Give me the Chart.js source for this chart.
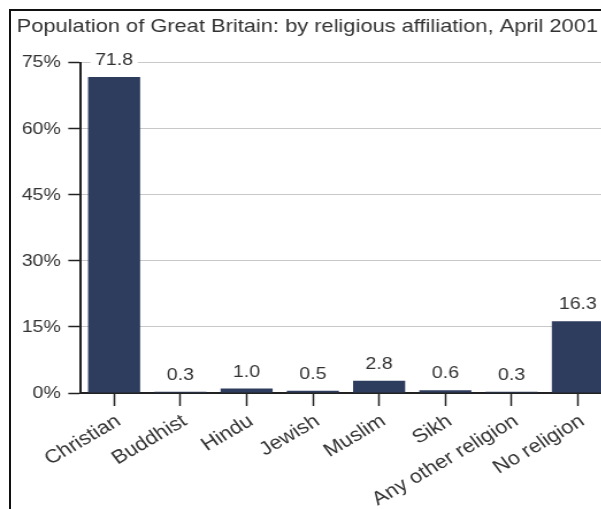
<!DOCTYPE html>
<html lang="en">
<head>
<meta charset="UTF-8">
<title>Population of Great Britain: by religious affiliation</title>
<style>
    * {
        margin: 0;
        padding: 0;
        box-sizing: border-box;
    }

    html, body {
        width: 601px;
        height: 509px;
        overflow: hidden;
        background: #fff;
    }

    .frame {
        position: absolute;
        left: 9px;
        top: 9px;
        width: 700px;
        height: 600px;
        border-top: 2px solid #111;
        border-left: 2px solid #111;
    }

    /* the source picture is a little wider than tall, so stretch it */
    .stretch {
        position: absolute;
        left: 0;
        top: 0;
        transform: scaleX(1.15);
        transform-origin: 0 0;
    }
</style>
<script src="https://cdn.jsdelivr.net/npm/chart.js@4"></script>
</head>
<body>
<div class="frame"></div>
<div class="stretch">
    <canvas id="chart" width="540" height="509" style="width:540px;height:509px"></canvas>
</div>

<script>
    // Data
    const categories = ['Christian', 'Buddhist', 'Hindu', 'Jewish', 'Muslim', 'Sikh', 'Any other religion', 'No religion'];
    const shares = [71.8, 0.3, 1.0, 0.5, 2.8, 0.6, 0.3, 16.3];
    const yTicks = [0, 15, 30, 45, 60, 75];

    const FONT = "'Liberation Sans', Arial, sans-serif";
    const TEXT = '#333';
    const BAR = '#2e3d5d';

    // value above every bar, on a white patch so the gridline is hidden behind it
    const valueLabels = {
        id: 'valueLabels',
        afterDatasetsDraw(chart) {
            const ctx = chart.ctx;
            const meta = chart.getDatasetMeta(0);
            ctx.save();
            ctx.font = '17px ' + FONT;
            ctx.textAlign = 'center';
            ctx.textBaseline = 'alphabetic';
            meta.data.forEach((bar, i) => {
                const txt = shares[i].toFixed(1);
                const w = ctx.measureText(txt).width;
                const y = bar.y - 12;
                ctx.fillStyle = '#fff';
                ctx.fillRect(bar.x - w / 2 - 4, y - 15, w + 8, 18);
                ctx.fillStyle = TEXT;
                ctx.fillText(txt, bar.x, y);
            });
            ctx.restore();
        }
    };

    new Chart(document.getElementById('chart'), {
        type: 'bar',
        data: {
            labels: categories,
            datasets: [{
                data: shares,
                backgroundColor: BAR,
                barPercentage: 0.786,
                categoryPercentage: 1
            }]
        },
        options: {
            responsive: false,
            animation: false,
            layout: {
                padding: { left: 14.5, right: 8.7, top: 0, bottom: 0 }
            },
            plugins: {
                legend: { display: false },
                tooltip: { enabled: false },
                title: {
                    display: true,
                    text: 'Population of Great Britain: by religious affiliation, April 2001',
                    align: 'start',
                    color: TEXT,
                    font: { family: FONT, size: 19, weight: 'normal', lineHeight: 1.2 },
                    padding: { top: 15, bottom: 25 }
                }
            },
            scales: {
                x: {
                    grid: {
                        display: true,
                        drawOnChartArea: false,
                        offset: false,
                        tickLength: 13,
                        tickColor: '#222',
                        tickWidth: 1.5
                    },
                    border: { color: '#222', width: 2 },
                    ticks: {
                        color: TEXT,
                        font: { family: FONT, size: 19 },
                        // 33.6 here looks like 30 once the canvas is stretched
                        minRotation: 33.6,
                        maxRotation: 33.6,
                        padding: 4,
                        labelOffset: 4,
                        autoSkip: false
                    },
                    afterFit(scale) { scale.height = 116; }
                },
                y: {
                    min: 0,
                    max: 75,
                    afterBuildTicks(scale) {
                        scale.ticks = yTicks.map(v => ({ value: v }));
                    },
                    grid: {
                        color: '#c8c8c8',
                        lineWidth: 1,
                        tickLength: 11,
                        tickColor: '#222',
                        tickWidth: 1.5
                    },
                    border: { color: '#222', width: 2 },
                    ticks: {
                        color: TEXT,
                        font: { family: FONT, size: 17 },
                        padding: 6.5,
                        callback: v => v + '%'
                    },
                    afterFit(scale) { scale.width = 55.9; }
                }
            }
        },
        plugins: [valueLabels]
    });
</script>
</body>
</html>
